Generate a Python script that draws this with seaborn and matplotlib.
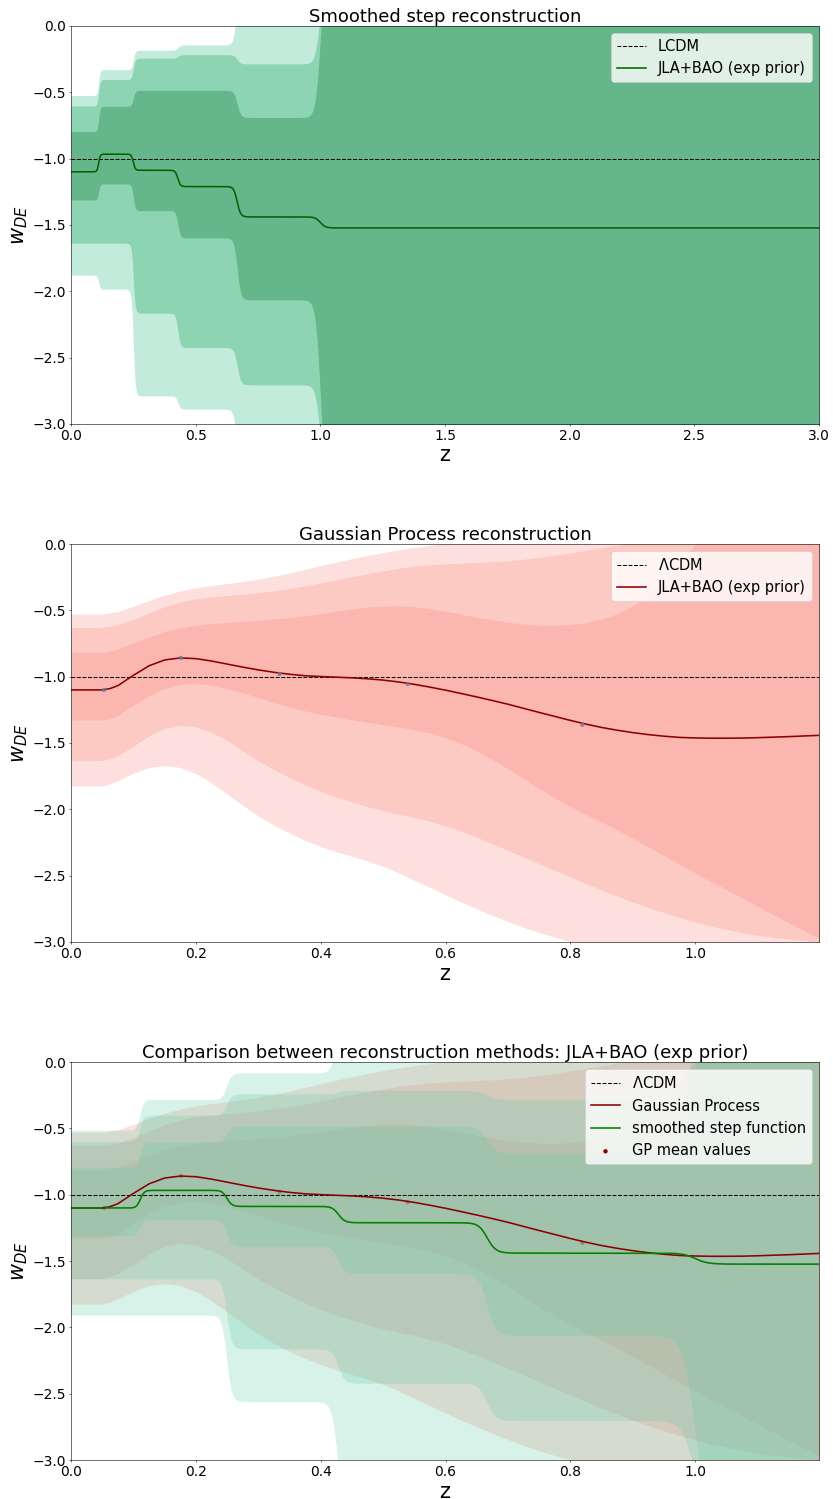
import numpy as np
import matplotlib
matplotlib.use("Agg")
import matplotlib.pyplot as plt
import seaborn as sns

# ---- smoothed step reconstruction (bins in scale factor a = 1/(1+z)) ----
a_edges = [0.9, 0.8, 0.7, 0.6, 0.5]
step_mean = [-1.100, -0.967, -1.088, -1.211, -1.440, -1.523]
# top panel bands (1, 2, 3 sigma)
step_up1 = [-0.796, -0.606, -0.486, -0.486, -0.690, 0.5]
step_lo1 = [-1.312, -1.191, -1.392, -1.598, -2.065, -3.5]
step_up2 = [-0.603, -0.404, -0.243, -0.217, -0.286, 0.5]
step_lo2 = [-1.638, -1.638, -2.166, -2.425, -2.706, -3.5]
step_up3 = [-0.525, -0.330, -0.184, -0.143, 0.5, 0.5]
step_lo3 = [-1.879, -1.985, -2.789, -2.889, -3.5, -3.5]
# outer band used in the comparison panel
cmp_up3 = [-0.517, -0.285, -0.085, 0.5, 0.5, 0.5]
cmp_lo3 = [-1.911, -1.911, -2.562, -3.5, -3.5, -3.5]

# ---- Gaussian process reconstruction ----
gp_z = [0.0, 0.025, 0.05, 0.0625, 0.075, 0.1, 0.125, 0.15, 0.175, 0.2, 0.225, 0.25,
        0.275, 0.3, 0.325, 0.35, 0.375, 0.4, 0.425, 0.45, 0.475, 0.5, 0.525, 0.55,
        0.575, 0.6, 0.625, 0.65, 0.675, 0.7, 0.725, 0.75, 0.775, 0.8, 0.825, 0.85,
        0.875, 0.9, 0.925, 0.95, 0.975, 1.0, 1.025, 1.05, 1.075, 1.1, 1.125, 1.15,
        1.175, 1.2]
gp_mean = [-1.100, -1.100, -1.100, -1.090, -1.068, -0.990, -0.918, -0.874, -0.859,
           -0.864, -0.882, -0.905, -0.928, -0.949, -0.967, -0.982, -0.993, -0.999,
           -1.004, -1.009, -1.016, -1.026, -1.040, -1.058, -1.079, -1.102, -1.127,
           -1.153, -1.180, -1.208, -1.239, -1.270, -1.300, -1.330, -1.358, -1.383,
           -1.404, -1.422, -1.437, -1.449, -1.458, -1.462, -1.464, -1.464, -1.463,
           -1.460, -1.456, -1.452, -1.447, -1.442]
gp_up1 = [-0.817, -0.817, -0.817, -0.808, -0.792, -0.745, -0.700, -0.662, -0.633,
          -0.613, -0.600, -0.591, -0.583, -0.575, -0.566, -0.555, -0.541, -0.525,
          -0.507, -0.490, -0.476, -0.468, -0.467, -0.473, -0.487, -0.507, -0.530,
          -0.552, -0.572, -0.590, -0.603, -0.611, -0.613, -0.607, -0.592, -0.565,
          -0.525, -0.465, -0.385, -0.280, -0.150, 0.000, 0.150, 0.300, 0.450,
          0.600, 0.750, 0.900, 1.050, 1.200]
gp_lo1 = [-1.327, -1.327, -1.327, -1.315, -1.292, -1.215, -1.142, -1.088, -1.058,
          -1.052, -1.065, -1.090, -1.122, -1.158, -1.195, -1.228, -1.258, -1.283,
          -1.305, -1.325, -1.344, -1.362, -1.380, -1.400, -1.425, -1.460, -1.505,
          -1.560, -1.625, -1.695, -1.770, -1.845, -1.915, -1.980, -2.040, -2.095,
          -2.155, -2.220, -2.285, -2.350, -2.415, -2.480, -2.545, -2.605, -2.670,
          -2.730, -2.795, -2.855, -2.915, -2.975]
gp_up2 = [-0.628, -0.628, -0.628, -0.620, -0.608, -0.570, -0.520, -0.472, -0.437,
          -0.413, -0.399, -0.389, -0.378, -0.366, -0.352, -0.335, -0.315, -0.293,
          -0.270, -0.247, -0.224, -0.202, -0.183, -0.168, -0.157, -0.150, -0.145,
          -0.140, -0.134, -0.126, -0.115, -0.101, -0.085, -0.067, -0.048, -0.028,
          -0.008, 0.012, 0.035, 0.060, 0.090, 0.120, 0.150, 0.180, 0.210, 0.240,
          0.270, 0.300, 0.330, 0.360]
gp_lo2 = [-1.633, -1.633, -1.633, -1.618, -1.595, -1.525, -1.445, -1.390, -1.366,
          -1.378, -1.420, -1.480, -1.560, -1.635, -1.700, -1.760, -1.815, -1.865,
          -1.908, -1.945, -1.980, -2.010, -2.038, -2.062, -2.090, -2.125, -2.165,
          -2.210, -2.260, -2.310, -2.360, -2.410, -2.460, -2.510, -2.560, -2.610,
          -2.655, -2.700, -2.740, -2.780, -2.815, -2.850, -2.880, -2.905, -2.930,
          -2.950, -2.965, -2.978, -2.990, -3.000]
gp_up3 = [-0.528, -0.528, -0.528, -0.520, -0.510, -0.470, -0.425, -0.386, -0.354,
          -0.330, -0.313, -0.298, -0.283, -0.265, -0.243, -0.218, -0.191, -0.163,
          -0.136, -0.110, -0.086, -0.064, -0.044, -0.026, -0.010, 0.005, 0.020,
          0.035, 0.050, 0.065, 0.080, 0.095, 0.110, 0.125, 0.140, 0.155, 0.170,
          0.185, 0.200, 0.215, 0.230, 0.245, 0.260, 0.275, 0.290, 0.305, 0.320,
          0.335, 0.350, 0.365]
gp_lo3 = [-1.824, -1.824, -1.824, -1.808, -1.785, -1.728, -1.685, -1.670, -1.685,
          -1.730, -1.800, -1.885, -1.970, -2.050, -2.120, -2.180, -2.235, -2.280,
          -2.320, -2.355, -2.390, -2.430, -2.480, -2.535, -2.590, -2.645, -2.700,
          -2.750, -2.800, -2.845, -2.890, -2.930, -2.965, -3.000, -3.030, -3.060,
          -3.090, -3.120, -3.150, -3.180, -3.210, -3.240, -3.270, -3.300, -3.330,
          -3.360, -3.390, -3.420, -3.450, -3.480]
gp_pts_z = [0.053, 0.176, 0.334, 0.539, 0.819]
gp_pts_w = [-1.100, -0.859, -0.980, -1.055, -1.362]

green_cols = ["#66b68b", "#8dd4b2", "#c3ebdc"]

plt.rcParams.update({
    "xtick.labelsize": 20, "ytick.labelsize": 20,
    "axes.titlesize": 26, "axes.labelsize": 30, "legend.fontsize": 21,
})

z_fine = np.linspace(0, 3, 3000)
a_fine = 1.0 / (1.0 + z_fine)


def smooth_step(levels, width=0.005):
    w = np.full_like(a_fine, levels[0])
    for edge, lo, hi in zip(a_edges, levels[:-1], levels[1:]):
        w += (hi - lo) * 0.5 * (1 + np.tanh((edge - a_fine) / width))
    return w


fig, axes = plt.subplots(3, 1, figsize=(16.66, 29.98), dpi=50)
fig.subplots_adjust(left=0.0852, right=0.9832, top=0.9827, bottom=0.026, hspace=0.302)

gp_bands = [(gp_lo3, gp_up3), (gp_lo2, gp_up2), (gp_lo1, gp_up1)]

# panel 1: smoothed step
ax = axes[0]
bands = [(step_lo3, step_up3), (step_lo2, step_up2), (step_lo1, step_up1)]
for (lo, up), c in zip(bands, green_cols[::-1]):
    ax.fill_between(z_fine, smooth_step(lo), smooth_step(up), color=c, lw=0)
ax.axhline(-1, color="k", ls="--", lw=1.5, label="LCDM")
sns.lineplot(x=z_fine, y=smooth_step(step_mean), ax=ax, color="darkgreen", lw=2.3,
             label="JLA+BAO (exp prior)", estimator=None)
ax.set_xlim(0, 3)
ax.set_ylim(-3, 0)
ax.set_title("Smoothed step reconstruction", pad=6)
ax.set_xlabel("z")
ax.set_ylabel(r"$w_{DE}$")
ax.legend(loc="upper right")

# panel 2: Gaussian process
ax = axes[1]
for lo, up in gp_bands:
    ax.fill_between(gp_z, lo, up, color="salmon", alpha=0.24, lw=0)
ax.axhline(-1, color="k", ls="--", lw=1.5, label=r"$\Lambda$CDM")
sns.lineplot(x=gp_z, y=gp_mean, ax=ax, color="darkred", lw=2.3,
             label="JLA+BAO (exp prior)", estimator=None)
sns.scatterplot(x=gp_pts_z, y=gp_pts_w, ax=ax, color="#6b7a99", s=40, alpha=0.8,
                edgecolor="none", zorder=3)
ax.set_xlim(0, 1.198)
ax.set_ylim(-3, 0)
ax.set_title("Gaussian Process reconstruction", pad=6)
ax.set_xlabel("z")
ax.set_ylabel(r"$w_{DE}$")
ax.legend(loc="upper right")

# panel 3: comparison
ax = axes[2]
for lo, up in gp_bands:
    ax.fill_between(gp_z, lo, up, color="salmon", alpha=0.24, lw=0)
cmp_bands = [(cmp_lo3, cmp_up3), (step_lo2, step_up2), (step_lo1, step_up1)]
for lo, up in cmp_bands:
    ax.fill_between(z_fine, smooth_step(lo), smooth_step(up), color="mediumaquamarine",
                    alpha=0.26, lw=0)
ax.axhline(-1, color="k", ls="--", lw=1.5, label=r"$\Lambda$CDM")
sns.lineplot(x=gp_z, y=gp_mean, ax=ax, color="darkred", lw=2.3,
             label="Gaussian Process", estimator=None)
sns.lineplot(x=z_fine, y=smooth_step(step_mean), ax=ax, color="green", lw=2.3,
             label="smoothed step function", estimator=None)
sns.scatterplot(x=gp_pts_z, y=gp_pts_w, ax=ax, color="darkred", s=40, alpha=0.3,
                edgecolor="none", zorder=3, label="GP mean values")
ax.set_xlim(0, 1.198)
ax.set_ylim(-3, 0)
ax.set_title("Comparison between reconstruction methods: JLA+BAO (exp prior)", pad=6)
ax.set_xlabel("z")
ax.set_ylabel(r"$w_{DE}$")
leg = ax.legend(loc="upper right")
leg.legend_handles[-1].set_alpha(1)

fig.savefig("out.png", dpi=50)
